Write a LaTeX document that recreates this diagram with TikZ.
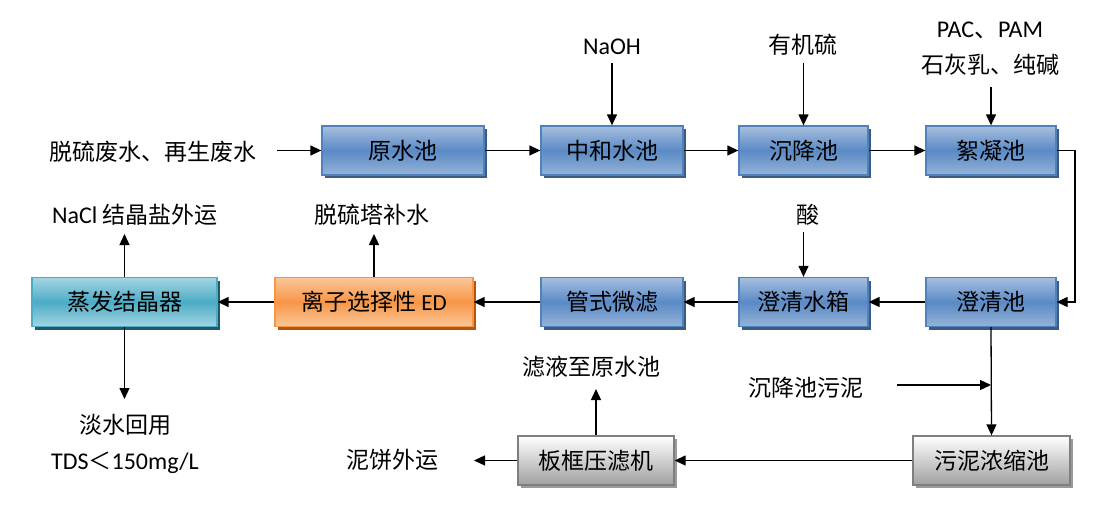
\documentclass[tikz,border=0pt]{standalone}
\usepackage{fontspec}
\setmainfont{Carlito}
\newfontfamily\cjk{Noto Sans CJK SC}
\usetikzlibrary{arrows.meta,shadows}
\definecolor{bbd}{HTML}{4F81BD}
\definecolor{bbt}{HTML}{A7BFDE}
\definecolor{bbm}{HTML}{5A8AC6}
\definecolor{bbb}{HTML}{95B3D7}
\definecolor{bbs}{HTML}{3C5A82}
\definecolor{obd}{HTML}{F79646}
\definecolor{obt}{HTML}{FBC79A}
\definecolor{obm}{HTML}{F79646}
\definecolor{obs}{HTML}{B65708}
\definecolor{tbd}{HTML}{4BACC6}
\definecolor{tbt}{HTML}{A5D5E2}
\definecolor{tbm}{HTML}{4BACC6}
\definecolor{tbs}{HTML}{215968}
\definecolor{gbd}{HTML}{7F7F7F}
\definecolor{gbb}{HTML}{A0A0A0}
\definecolor{gbs}{HTML}{9A9A9A}
\begin{document}
\begin{tikzpicture}[x=1pt,y=-1pt,
  every node/.style={font=\fontsize{23}{27}\selectfont},
  procbox/.style={draw, line width=1.3pt, minimum height=49pt, inner sep=0pt},
  bluebox/.style={procbox, draw=bbd, top color=bbt, bottom color=bbb, middle color=bbm,
     drop shadow={shadow xshift=3pt, shadow yshift=-3pt, fill=bbs, opacity=1}},
  orangebox/.style={procbox, draw=obd, top color=obt, bottom color=obt, middle color=obm,
     drop shadow={shadow xshift=3pt, shadow yshift=-3pt, fill=obs, opacity=1}},
  tealbox/.style={procbox, draw=tbd, top color=tbt, bottom color=tbt, middle color=tbm,
     drop shadow={shadow xshift=3pt, shadow yshift=-3pt, fill=tbs, opacity=1}},
  graybox/.style={procbox, draw=gbd, top color=white, bottom color=gbb,
     drop shadow={shadow xshift=3pt, shadow yshift=-3pt, fill=gbs, opacity=1}},
  lbl/.style={inner sep=0pt},
  flow/.style={line width=1.3pt, -{Triangle[length=11pt,width=10pt]}},
  plain/.style={line width=1.3pt}]
\fill[white] (0,0) rectangle (1111,511);
\useasboundingbox (0,0) rectangle (1111,511);

% process boxes
\node[bluebox, minimum width=162pt] (raw) at (403,150.5) {\cjk 原水池};
\node[bluebox, minimum width=142pt] (zh) at (612,150.5) {\cjk 中和水池};
\node[bluebox, minimum width=129pt] (cj) at (803.5,150.5) {\cjk 沉降池};
\node[bluebox, minimum width=130pt] (xn) at (991,150.5) {\cjk 絮凝池};
\node[bluebox, minimum width=130pt] (cq) at (991,302) {\cjk 澄清池};
\node[bluebox, minimum width=129pt] (sx) at (803.5,302) {\cjk 澄清水箱};
\node[bluebox, minimum width=142pt] (gs) at (612,302) {\cjk 管式微滤};
\node[orangebox, minimum width=198pt] (ed) at (374,302) {{\cjk 离子选择性} ED};
\node[tealbox, minimum width=185pt] (zf) at (124.5,302) {\cjk 蒸发结晶器};
\node[graybox, minimum width=156pt] (bk) at (596,460.5) {\cjk 板框压滤机};
\node[graybox, minimum width=157pt] (wn) at (991.5,460.5) {\cjk 污泥浓缩池};

% labels
\node[lbl] (src) at (153,152) {\cjk 脱硫废水、再生废水};
\node[lbl] (naoh) at (612,47) {\fontsize{24}{28}\selectfont NaOH};
\node[lbl] (yjl) at (803,45) {\cjk 有机硫};
\node[lbl] (pac) at (990,30) {\fontsize{24}{28}\selectfont PAC{\cjk 、}PAM};
\node[lbl] (shj) at (990,65) {\cjk 石灰乳、纯碱};
\node[lbl] (suan) at (808,215) {\cjk 酸};
\node[lbl] (bs) at (372,215) {\cjk 脱硫塔补水};
\node[lbl] (nacl) at (135,215) {\fontsize{24}{28}\selectfont NaCl {\cjk\fontsize{23}{27}\selectfont 结晶盐外运}};
\node[lbl] (dan) at (125,425) {\cjk 淡水回用};
\node[lbl] (tds) at (125,463) {\fontsize{24}{28}\selectfont TDS{\cjk\fontsize{23}{27}\selectfont ＜}150mg/L};
\node[lbl] (cjwn) at (806,388) {\cjk 沉降池污泥};
\node[lbl] (lv) at (591,367) {\cjk 滤液至原水池};
\node[lbl] (nb) at (392,460) {\cjk 泥饼外运};

% coordinates
\coordinate (srcend) at (277,150.5);
\coordinate (naohs) at (612,63);
\coordinate (yjls) at (803.5,63);
\coordinate (shjs) at (991,87);
\coordinate (suans) at (803.5,232);
\coordinate (bse) at (374,234);
\coordinate (nacle) at (124.5,234);
\coordinate (dane) at (124.5,399);
\coordinate (cjwns) at (897,385);
\coordinate (cjwne) at (991,385);
\coordinate (lve) at (596,389);
\coordinate (nbe) at (474,460.5);
\coordinate (turn) at (1075,150.5);

% connectors
\draw[flow] (srcend) -- (raw.west);
\draw[flow] (raw.east) -- (zh.west);
\draw[flow] (zh.east) -- (cj.west);
\draw[flow] (cj.east) -- (xn.west);
\draw[flow] (xn.east) -- (turn) |- (cq.east);
\draw[flow] (cq.west) -- (sx.east);
\draw[flow] (sx.west) -- (gs.east);
\draw[flow] (gs.west) -- (ed.east);
\draw[flow] (ed.west) -- (zf.east);
\draw[flow] (naohs) -- (zh.north);
\draw[flow] (yjls) -- (cj.north);
\draw[flow] (shjs) -- (xn.north);
\draw[flow] (suans) -- (sx.north);
\draw[flow] (ed.north) -- (bse);
\draw[flow] (zf.north) -- (nacle);
\draw[flow] (zf.south) -- (dane);
\draw[flow] (cq.south) -- (wn.north);
\draw[flow] (cjwns) -- (cjwne);
\draw[flow] (wn.west) -- (bk.east);
\draw[flow] (bk.north) -- (lve);
\draw[flow] (bk.west) -- (nbe);
\end{tikzpicture}
\end{document}
